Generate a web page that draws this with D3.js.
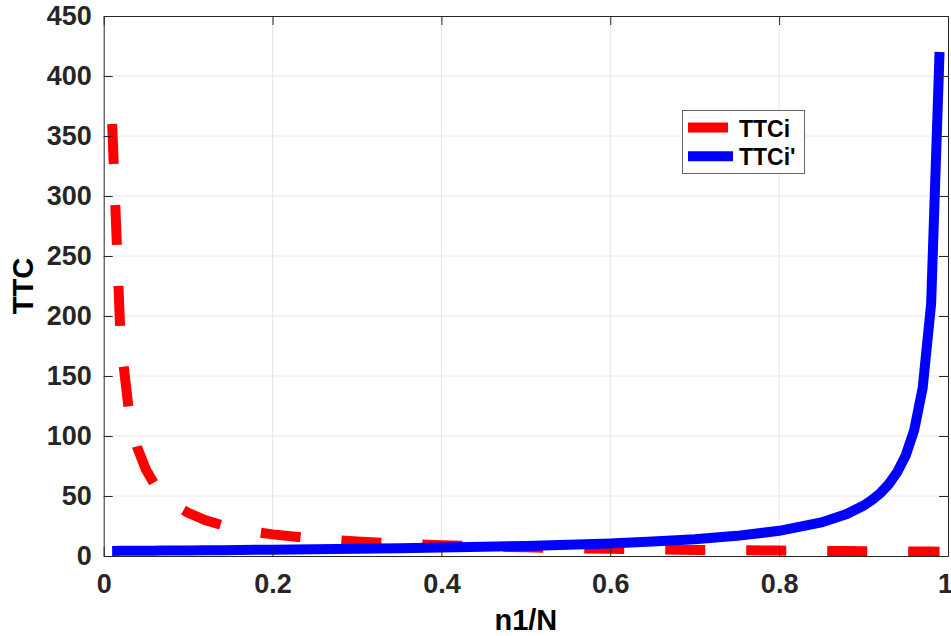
<!DOCTYPE html>
<html>
<head>
<meta charset="utf-8">
<script src="https://cdn.jsdelivr.net/npm/d3@7"></script>
<style>
  body { margin: 0; background: #fff; }
  text { font-family: "Liberation Sans", Arial, sans-serif; font-weight: bold; }
</style>
</head>
<body>
<script>
// values
var xVals = [0.01, 0.02, 0.03, 0.04, 0.05, 0.06, 0.07, 0.08, 0.09, 0.10,
             0.12, 0.14, 0.16, 0.18, 0.20, 0.25, 0.30, 0.35, 0.40, 0.45,
             0.50, 0.55, 0.60, 0.65, 0.70, 0.75, 0.80, 0.85, 0.88, 0.90,
             0.91, 0.92, 0.93, 0.94, 0.95, 0.96, 0.97, 0.98, 0.99];
var ttci = [360, 180, 120, 90, 72, 60, 51.4, 45, 40, 36,
            30, 25.7, 22.5, 20, 18, 14.4, 12, 10.3, 9, 8,
            7.2, 6.5, 6, 5.5, 5.1, 4.8, 4.5, 4.2, 4.1, 4,
            3.96, 3.91, 3.87, 3.83, 3.79, 3.75, 3.71, 3.67, 3.64];
var ttciPrime = [4.24, 4.29, 4.33, 4.38, 4.42, 4.47, 4.52, 4.57, 4.62, 4.67,
                 4.77, 4.88, 5.0, 5.12, 5.25, 5.6, 6.0, 6.46, 7.0, 7.64,
                 8.4, 9.33, 10.5, 12, 14, 16.8, 21, 28, 35, 42,
                 46.7, 52.5, 60, 70, 84, 105, 140, 210, 420];
var xTicks = [0, 0.2, 0.4, 0.6, 0.8, 1];
var yTicks = [0, 50, 100, 150, 200, 250, 300, 350, 400, 450];
var seriesNames = ["TTCi", "TTCi'"];
var seriesColors = ["#ff0000", "#0000ff"];

var W = 951, H = 636;
var plotL = 103.7, plotR = 948, plotT = 16, plotB = 556;

var svg = d3.select("body").append("svg")
    .attr("width", W)
    .attr("height", H);

var x = d3.scaleLinear().domain([0, 1]).range([plotL, plotR]);
var y = d3.scaleLinear().domain([0, 450]).range([plotB, plotT]);

// grid
svg.append("g").selectAll("line")
    .data(xTicks.slice(1, -1))
    .enter().append("line")
    .attr("x1", d => x(d)).attr("x2", d => x(d))
    .attr("y1", plotT).attr("y2", plotB)
    .attr("stroke", "#e6e6e6").attr("stroke-width", 1);
svg.append("g").selectAll("line")
    .data(yTicks.slice(1, -1))
    .enter().append("line")
    .attr("x1", plotL).attr("x2", plotR)
    .attr("y1", d => y(d)).attr("y2", d => y(d))
    .attr("stroke", "#e6e6e6").attr("stroke-width", 1);

// clip to axes
svg.append("clipPath").attr("id", "clip")
  .append("rect")
    .attr("x", plotL).attr("y", plotT)
    .attr("width", plotR - plotL).attr("height", plotB - plotT);

var line = d3.line()
    .x(d => x(d[0]))
    .y(d => y(d[1]));

var plot = svg.append("g").attr("clip-path", "url(#clip)");

plot.append("path")
    .datum(xVals.map((v, i) => [v, ttci[i]]))
    .attr("d", line)
    .attr("fill", "none")
    .attr("stroke", seriesColors[0])
    .attr("stroke-width", 10)
    .attr("stroke-dasharray", "40,41");

plot.append("path")
    .datum(xVals.map((v, i) => [v, ttciPrime[i]]))
    .attr("d", line)
    .attr("fill", "none")
    .attr("stroke", seriesColors[1])
    .attr("stroke-width", 10);

// axes (box with inward ticks on all sides)
var axisColor = "#262626";
var tickLen = 9;

svg.append("g")
    .attr("transform", "translate(0," + plotB + ")")
    .call(d3.axisBottom(x).tickValues(xTicks).tickFormat(d => d === 0 || d === 1 ? d3.format("d")(d) : d3.format(".1f")(d))
      .tickSizeInner(-tickLen).tickSizeOuter(0).tickPadding(18))
    .call(g => g.select(".domain").attr("stroke", axisColor))
    .call(g => g.selectAll(".tick line").attr("stroke", axisColor))
    .call(g => g.selectAll(".tick text").attr("fill", axisColor).style("font-size", "27px"))
    // last label sits at the window edge, nudge it in a bit
    .call(g => g.selectAll(".tick text").filter(d => d === 1).attr("dx", -3));

svg.append("g")
    .attr("transform", "translate(" + plotL + ",0)")
    .call(d3.axisLeft(y).tickValues(yTicks)
      .tickSizeInner(-tickLen).tickSizeOuter(0).tickPadding(12))
    .call(g => g.select(".domain").attr("stroke", axisColor))
    .call(g => g.selectAll(".tick line").attr("stroke", axisColor))
    .call(g => g.selectAll(".tick text").attr("fill", axisColor).style("font-size", "27px"));

svg.append("g")
    .attr("transform", "translate(0," + plotT + ")")
    .call(d3.axisTop(x).tickValues(xTicks).tickFormat("")
      .tickSizeInner(-tickLen).tickSizeOuter(0))
    .call(g => g.select(".domain").attr("stroke", axisColor))
    .call(g => g.selectAll(".tick line").attr("stroke", axisColor));

svg.append("g")
    .attr("transform", "translate(" + plotR + ",0)")
    .call(d3.axisRight(y).tickValues(yTicks).tickFormat("")
      .tickSizeInner(-tickLen).tickSizeOuter(0))
    .call(g => g.select(".domain").attr("stroke", axisColor))
    .call(g => g.selectAll(".tick line").attr("stroke", axisColor));

// axis labels
svg.append("text")
    .attr("x", (plotL + plotR) / 2)
    .attr("y", 630)
    .attr("text-anchor", "middle")
    .style("font-size", "29px")
    .attr("fill", "#000")
    .text("n1/N");

svg.append("text")
    .attr("transform", "translate(33," + ((plotT + plotB) / 2) + ") rotate(-90)")
    .attr("text-anchor", "middle")
    .style("font-size", "29px")
    .attr("fill", "#000")
    .text("TTC");

// legend
var legend = svg.append("g");
legend.append("rect")
    .attr("x", 682.5).attr("y", 110.5)
    .attr("width", 122).attr("height", 63)
    .attr("fill", "#fff")
    .attr("stroke", "#666").attr("stroke-width", 1);

var rows = [127.5, 156.3];
seriesNames.forEach(function(name, i) {
  legend.append("line")
      .attr("x1", 688).attr("x2", 733)
      .attr("y1", rows[i]).attr("y2", rows[i])
      .attr("stroke", seriesColors[i])
      .attr("stroke-width", 10)
      .attr("stroke-dasharray", i === 0 ? "40,41" : null);
  legend.append("text")
      .attr("x", 739)
      .attr("y", rows[i] + 9)
      .style("font-size", "23px")
      .attr("fill", "#000")
      .text(name);
});
</script>
</body>
</html>
